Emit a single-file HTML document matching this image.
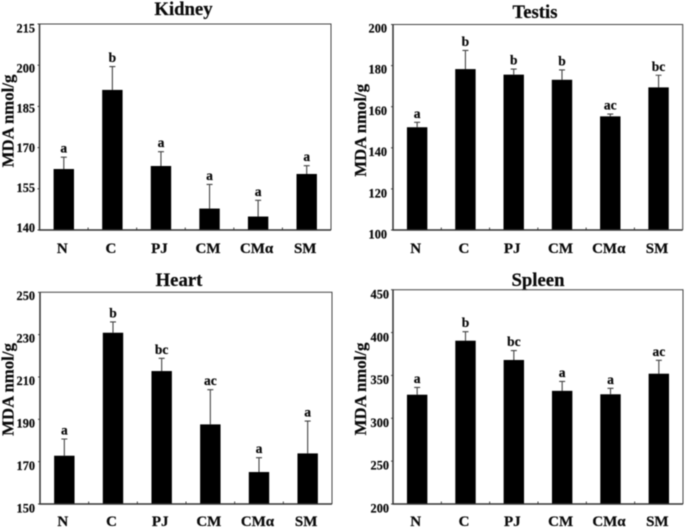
<!DOCTYPE html>
<html>
<head>
<meta charset="utf-8">
<title>MDA levels by organ</title>
<style>
html,body{margin:0;padding:0;background:#fff;}
body{width:685px;height:528px;overflow:hidden;}
svg{display:block;filter:blur(0.4px);}
text{font-family:"Liberation Serif",serif;font-weight:bold;fill:#0a0a0a;stroke:#0a0a0a;stroke-width:0.2px;}
</style>
</head>
<body>
<svg id="chart" width="685" height="528" viewBox="0 0 685 528" xmlns="http://www.w3.org/2000/svg"></svg>
<script>
const categories = ['N', 'C', 'PJ', 'CM', 'CMα', 'SM'];

const kidneyValues = [162.2, 191, 163.3, 147.8, 144.9, 160.4];
const kidneyErrors = [4.3, 8.5, 5.2, 8.8, 5.9, 3];
const kidneyLetters = ['a', 'b', 'a', 'a', 'a', 'a'];
const kidneyTicks = [140, 155, 170, 185, 200, 215];

const testisValues = [150, 178.3, 175.6, 173.1, 155.3, 169.4];
const testisErrors = [2.4, 9.1, 2.7, 4.8, 1.1, 5.9];
const testisLetters = ['a', 'b', 'b', 'b', 'ac', 'bc'];
const testisTicks = [100, 120, 140, 160, 180, 200];

const heartValues = [172.8, 230.9, 212.8, 187.6, 165.1, 173.9];
const heartErrors = [7.9, 5.1, 6, 16.4, 6.8, 15.3];
const heartLetters = ['a', 'b', 'bc', 'ac', 'a', 'a'];
const heartTicks = [150, 170, 190, 210, 230, 250];

const spleenValues = [327.5, 390.5, 368, 332, 328, 352];
const spleenErrors = [8.5, 10.5, 11, 11, 7, 15.6];
const spleenLetters = ['a', 'b', 'bc', 'a', 'a', 'ac'];
const spleenTicks = [200, 250, 300, 350, 400, 450];

const panels = [
  {key:'kidney', title:'Kidney', values:kidneyValues, errors:kidneyErrors, letters:kidneyLetters, ticks:kidneyTicks,
   left:39.5, right:331, top:24, bottom:230, titleX:183.5, titleY:15, labelRight:35, labelLow:232, labelHigh:32.5, catY:253, yTitleX:13.5, yTitleY:121},
  {key:'testis', title:'Testis', values:testisValues, errors:testisErrors, letters:testisLetters, ticks:testisTicks,
   left:393, right:682.7, top:24.5, bottom:230, titleX:535, titleY:18, labelRight:387, labelLow:238.5, labelHigh:32.5, catY:253, yTitleX:366, yTitleY:130.3},
  {key:'heart', title:'Heart', values:heartValues, errors:heartErrors, letters:heartLetters, ticks:heartTicks,
   left:40, right:332, top:292.3, bottom:504, titleX:179, titleY:286, labelRight:35, labelLow:512.5, labelHigh:300, catY:526, yTitleX:13.5, yTitleY:389.5},
  {key:'spleen', title:'Spleen', values:spleenValues, errors:spleenErrors, letters:spleenLetters, ticks:spleenTicks,
   left:393, right:683, top:289.7, bottom:504, titleX:538, titleY:286, labelRight:389, labelLow:512.5, labelHigh:298.5, catY:526, yTitleX:366, yTitleY:389}
];

const svg = document.getElementById('chart');
const NS = 'http://www.w3.org/2000/svg';

function make(tag, attrs, parent) {
  const el = document.createElementNS(NS, tag);
  for (const k in attrs) el.setAttribute(k, attrs[k]);
  parent.appendChild(el);
  return el;
}

panels.forEach(function (p) {
  const g = make('g', {}, svg);
  
  

  const lo = p.ticks[0];
  const hi = p.ticks[p.ticks.length - 1];
  const band = (p.right - p.left) / categories.length;
  const xCenter = function (i) { return p.left + band * (i + 0.5); };
  const yScale = function (v) { return p.bottom - (v - lo) / (hi - lo) * (p.bottom - p.top); };
  const labelY = function (v) { return p.labelLow - (v - lo) / (hi - lo) * (p.labelLow - p.labelHigh); };

  const title = make('text', {x:p.titleX, y:p.titleY, 'text-anchor':'middle', 'font-size':18.7}, g);
  
  
  title.textContent = p.title;

  const yTitle = make('text', {x:p.yTitleX, y:p.yTitleY, 'text-anchor':'middle', 'font-size':16.8,
    transform:'rotate(-90 ' + p.yTitleX + ' ' + p.yTitleY + ')'}, g);
  
  
  yTitle.textContent = 'MDA nmol/g';

  const frame = make('path', {
    d:'M' + p.left + ' ' + p.top + 'H' + p.right + 'V' + p.bottom,
    fill:'none', stroke:'#444', 'stroke-width':1}, g);
  
  

  p.ticks.forEach(function (t) {
    const tick = make('line', {x1:p.left - 2, x2:p.left, y1:yScale(t), y2:yScale(t), stroke:'#444', 'stroke-width':1}, g);
    
    
    const lab = make('text', {x:p.labelRight, y:labelY(t), 'text-anchor':'end', 'font-size':12.3}, g);
    
    
    lab.textContent = t;
  });

  categories.forEach(function (c, i) {
    const cx = xCenter(i);
    const top = yScale(p.values[i]);
    const errTop = yScale(p.values[i] + p.errors[i]);

    const err = make('path', {
      d:'M' + cx + ' ' + top + 'V' + errTop + 'M' + (cx - 3) + ' ' + errTop + 'H' + (cx + 3),
      fill:'none', stroke:'#444', 'stroke-width':1.1}, g);
    
    

    const bar = make('rect', {x:cx - 10.2, y:top, width:20.4, height:p.bottom - top, fill:'#000'}, g);
    
    

    const sig = make('text', {x:cx, y:errTop - 4.5, 'text-anchor':'middle', 'font-size':13.5}, g);
    
    
    sig.textContent = p.letters[i];

    const cat = make('text', {x:cx - 1.5, y:p.catY, 'text-anchor':'middle', 'font-size':15}, g);
    
    
    cat.textContent = c;

    if (i > 0) {
      const xt = make('line', {x1:p.left + band * i, x2:p.left + band * i, y1:p.bottom - 2.5, y2:p.bottom, stroke:'#444', 'stroke-width':1}, g);
      
      
    }
  });

  const axes = make('path', {
    d:'M' + p.left + ' ' + p.top + 'V' + p.bottom + 'H' + p.right,
    fill:'none', stroke:'#333', 'stroke-width':1.5}, g);
  
  
});
</script>
</body>
</html>
